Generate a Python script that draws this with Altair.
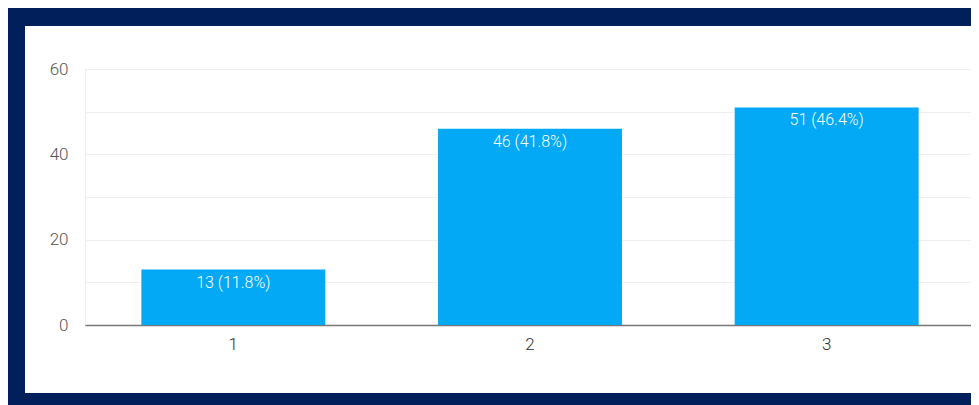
import altair as alt
import pandas as pd

categories = ["1", "2", "3"]
counts = [13, 46, 51]
labels = ["13 (11.8%)", "46 (41.8%)", "51 (46.4%)"]

df = pd.DataFrame({"cat": categories, "count": counts, "label": labels})

NAVY = "#001f5b"
BLUE = "#03a9f4"
FONT = "Roboto"

base = alt.Chart(df)

bars = base.mark_bar(color=BLUE).encode(
    x=alt.X("cat:N", sort=categories, title=None,
            scale=alt.Scale(paddingInner=0.38, paddingOuter=0.19),
            axis=alt.Axis(labelAngle=0, labelFont=FONT, labelFontSize=17,
                          labelFontWeight=300,
                          labelColor="#333333", labelPadding=11, ticks=False,
                          domainColor="#777777", domainWidth=1.5, grid=False)),
    y=alt.Y("count:Q", title=None,
            scale=alt.Scale(domain=[0, 60], nice=False),
            axis=alt.Axis(values=[0, 10, 20, 30, 40, 50, 60],
                          labelExpr="datum.value % 20 == 0 ? datum.label : ''",
                          labelFont=FONT, labelFontSize=17, labelFontWeight=300,
                          labelColor="#555555",
                          labelPadding=17, ticks=False, domain=False,
                          gridColor="#efefef", gridWidth=1)),
)

text = base.mark_text(baseline="top", dy=5, color="white", font=FONT,
                      fontSize=16, fontWeight=300).encode(
    x=alt.X("cat:N", sort=categories),
    y=alt.Y("count:Q"),
    text="label:N",
)

def frame(x, x2, y, y2):
    return alt.Chart(df).mark_rect(color=NAVY).encode(
        x=alt.value(x), x2=alt.value(x2), y=alt.value(y), y2=alt.value(y2)
    )

left = frame(-77, -60, -61, 336)
top = frame(-77, 894, -61, -43)
right = frame(891, 894, -61, 336)
bottom = frame(-77, 894, 324, 336)

chart = alt.layer(bars, text, left, top, right, bottom).properties(
    width=890, height=256,
    autosize=alt.AutoSizeParams(type="none"),
    padding={"left": 77, "top": 61, "right": -4, "bottom": 80},
    background="white",
).configure_view(stroke="#eeeeee", strokeWidth=1)

chart.save("out.html", embed_options={"renderer": "svg", "actions": False})
